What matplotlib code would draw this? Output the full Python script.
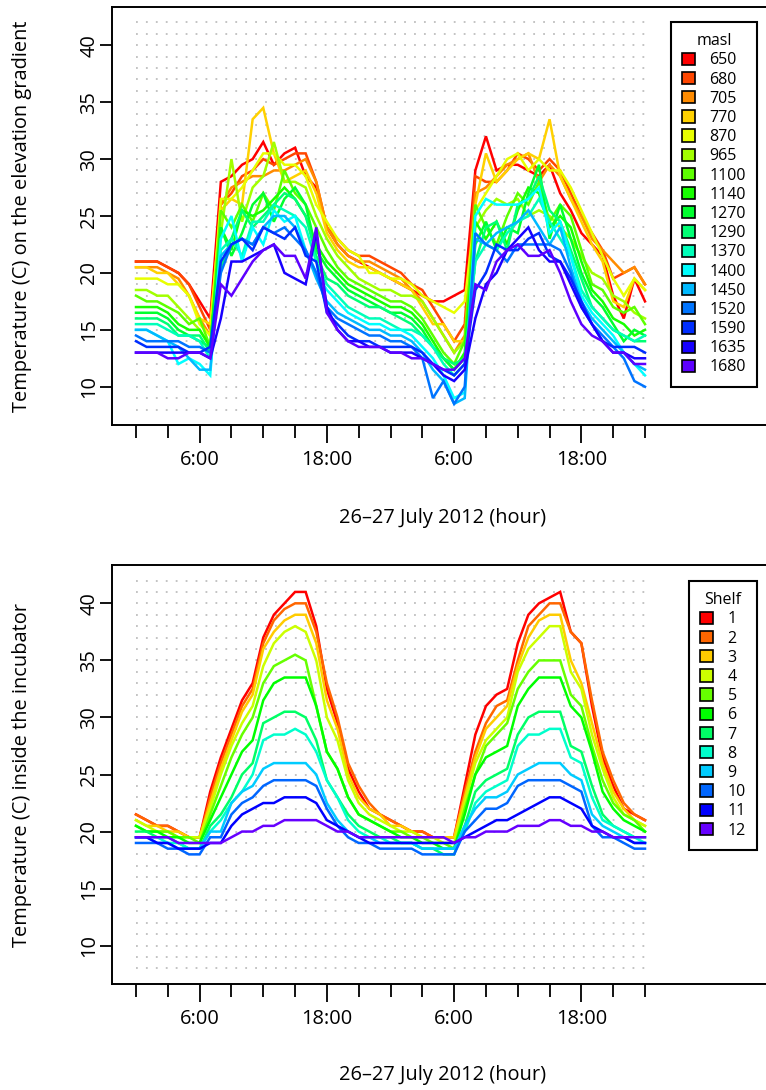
import numpy as np
import matplotlib
matplotlib.use('Agg')
import matplotlib.pyplot as plt
from matplotlib.colors import hsv_to_rgb
from matplotlib.patches import Patch

plt.rcParams['font.family'] = ['Open Sans', 'DejaVu Sans']

# hours since 0:00 on 26 July
hours = np.arange(49)
tick_hours = np.arange(0, 49, 3)
label_hours = [6, 18, 30, 42]
label_text = ['6:00', '18:00', '6:00', '18:00']
grid_levels = np.arange(8, 43)

# --- elevation gradient (masl) ---
masl = ['650', '680', '705', '770', '870', '965', '1100', '1140', '1270',
        '1290', '1370', '1400', '1450', '1520', '1590', '1635', '1680']

t650 = [21, 21, 21, 20.5, 20, 19, 17.5, 16,
        28, 28.5, 29.5, 30, 31.5, 29.5, 30.5, 31, 28.5, 27.5,
        24, 22.5, 21.5, 21, 20.5, 20, 19.5, 19, 18.5, 18, 17.5, 17.5, 18, 18.5,
        29, 32, 29, 29.5, 29.5, 29, 28.5, 29.5, 27, 25.5, 23.5, 22.5, 21.5, 18, 16, 19.5, 17.5]
t680 = [21, 21, 21, 20.5, 20, 19, 17, 15,
        26, 27, 28.5, 29, 30, 29.5, 30, 30.5, 30.5, 28,
        24, 23, 22, 21.5, 21.5, 21, 20.5, 20, 19, 18.5, 17, 15.5, 14, 15.5,
        28.5, 28, 28, 29, 30.5, 30, 29, 30, 29, 27, 25, 23.5, 22, 19.5, 20, 20.5, 19]
t705 = [20.5, 20.5, 20.5, 20, 19.5, 18, 16, 14.5,
        26, 27.5, 28, 28.5, 28.5, 29, 29, 29.5, 30, 28,
        24, 22.5, 21.5, 21, 21, 20.5, 20, 19.5, 18.5, 17.5, 16, 14.5, 13, 14.5,
        27, 27.5, 28.5, 29.5, 30, 30.5, 28, 29.5, 28.5, 26.5, 25, 23, 22, 21, 20, 20.5, 19]
t770 = [20.5, 20.5, 20, 20, 19, 18, 16, 15.5,
        25.5, 26.5, 26, 33.5, 34.5, 30.5, 28, 28.5, 29, 27,
        23.5, 22, 21, 20.5, 20.5, 20, 19.5, 19, 18.5, 17, 15.5, 15.5, 14, 14,
        26, 30.5, 28, 29, 30, 30.5, 30, 33.5, 28.5, 26.5, 24.5, 22.5, 21, 17.5, 17, 19.5, 18.5]
t870 = [19.5, 19.5, 19.5, 19, 19, 18, 15.5, 14.5,
        26.5, 26.5, 27.5, 29, 30.5, 30.5, 29.5, 29.5, 28.5, 26,
        24.5, 23, 22, 21.5, 20, 20, 19.5, 19.5, 19, 18, 17.5, 17, 16.5, 17.5,
        25.5, 27, 28.5, 30, 30.5, 29, 30, 29, 29, 27.5, 25.5, 23.5, 21.5, 19.5, 18, 19.5, 18.5]
t965 = [18.5, 18.5, 18, 18, 17, 16, 15, 13.5,
        23.5, 30, 24.5, 27.5, 28.5, 31.5, 28, 28, 27.5, 25,
        23, 21.5, 20.5, 19.5, 19, 18.5, 18.5, 18, 18, 17.5, 16, 14.5, 13, 14,
        24, 25.5, 26.5, 26, 26.5, 25, 25.5, 25, 24, 23, 21.5, 20, 19.5, 18, 17.5, 16.5, 16]
t1100 = [18, 17.5, 17.5, 17, 16.5, 15.5, 16, 13.5,
         25.5, 24, 26, 24.5, 27, 25.5, 29, 27, 26, 24,
         22, 20.5, 19.5, 19, 18.5, 18, 17.5, 17.5, 17, 16, 14.5, 13, 12, 14,
         26, 24, 22.5, 25, 27, 26, 28, 24.5, 26, 25, 22, 19, 18.5, 17, 16.5, 17, 15.5]
t1140 = [17, 17, 17, 16.5, 15.5, 15, 15, 13.5,
         24, 22, 25.5, 25, 25.5, 26.5, 27.5, 26.5, 25, 22.5,
         21, 20, 19, 18.5, 18, 17.5, 17, 17, 16.5, 15.5, 14, 12.5, 11.5, 13,
         24.5, 23, 24.5, 22.5, 25.5, 27.5, 27, 24, 25, 24, 21, 18.5, 17.5, 16, 15.5, 14.5, 15]
t1270 = [16.5, 16.5, 16.5, 16, 15, 14.5, 14, 13.5,
         24, 21.5, 23.5, 26, 27, 24.5, 26.5, 27.5, 26, 22,
         20.5, 19.5, 18.5, 18, 17.5, 17, 16.5, 16.5, 16, 15, 13.5, 12.5, 11.5, 12.5,
         22.5, 24.5, 22, 24, 23.5, 27, 29.5, 23, 26, 23, 20, 18, 17, 15.5, 14, 15, 14.5]
t1290 = [16, 16, 16, 15.5, 14.5, 14.5, 14.5, 13,
         20.5, 23, 25.5, 24, 25, 26, 27, 26.5, 25, 21.5,
         19.5, 19, 18, 17.5, 17, 17, 16.5, 16, 15.5, 14.5, 13.5, 12.5, 12, 12.5,
         21, 24, 24.5, 22, 26, 26.5, 28.5, 25.5, 24.5, 22, 19.5, 17, 16, 15, 14.5, 14, 14]
t1370 = [15.5, 15.5, 15.5, 15, 14.5, 14.5, 14, 12.5,
         22, 23, 21.5, 24.5, 24.5, 26, 25.5, 25, 24, 21,
         19, 18, 17, 16.5, 16, 16, 15.5, 15, 15, 14.5, 13.5, 12, 11, 12,
         21, 22.5, 22, 23.5, 24.5, 25, 26.5, 24.5, 23, 21.5, 18.5, 17, 16, 15, 14.5, 14, 14.5]
t1400 = [15, 15, 14.5, 14, 12, 12.5, 12, 11,
         23, 25, 21, 24, 22.5, 25.5, 24.5, 25, 22, 20,
         18.5, 17.5, 16.5, 16, 15.5, 15.5, 15, 15, 14.5, 13.5, 12.5, 11, 9, 9.5,
         25, 26.5, 26, 26, 26, 26.5, 27.5, 23.5, 24.5, 21.5, 18, 16.5, 15.5, 14.5, 13, 12, 11]
t1450 = [15, 15, 14.5, 14, 13.5, 12.5, 11.5, 11.5,
         21.5, 22.5, 23, 22.5, 24, 25, 25, 24, 22, 19.5,
         17.5, 16.5, 16, 15.5, 15, 15, 14.5, 14.5, 14, 13, 11.5, 10.5, 8.5, 9,
         23, 22.5, 23.5, 24, 24.5, 25.5, 24, 22.5, 24, 20.5, 17.5, 16, 15, 14, 13, 12, 11.5]
t1520 = [14.5, 14, 14, 14, 14, 13.5, 13.5, 13,
         20, 22.5, 23, 22.5, 24, 23.5, 24, 23, 22, 20,
         17, 16, 15.5, 15, 14.5, 14.5, 14, 14, 13.5, 12.5, 9, 10.5, 8.5, 10,
         23.5, 22.5, 22, 21, 22.5, 22.5, 22.5, 22.5, 22, 20, 17, 15.5, 14.5, 13.5, 12.5, 10.5, 10]
t1590 = [14, 13.5, 13.5, 13.5, 13.5, 13, 13, 13.5,
         21, 22.5, 23, 22, 24, 23.5, 23, 24, 21.5, 21,
         16.5, 15.5, 14.5, 14, 14, 13.5, 13.5, 13.5, 13.5, 13, 12, 11.5, 11, 12,
         18.5, 20, 22.5, 22, 22, 23, 23.5, 21.5, 21, 19.5, 17.5, 15.5, 14, 13.5, 13.5, 13.5, 13]
t1635 = [13, 13, 13, 13, 13, 13, 13, 12.5,
         16, 21, 21, 21.5, 22, 22.5, 20, 19.5, 19, 23.5,
         17, 15, 14, 14, 13.5, 13.5, 13, 13, 13, 12.5, 12, 11, 10.5, 11.5,
         16, 19, 20, 22, 23, 24, 22, 21, 21, 19, 17, 15.5, 14, 13, 13, 12.5, 12.5]
t1680 = [13, 13, 13, 12.5, 12.5, 13, 13, 12.5,
         19, 18, 19.5, 21, 22, 22.5, 21.5, 21.5, 19.5, 24,
         16.5, 15, 14, 13.5, 13.5, 13.5, 13, 13, 12.5, 12.5, 12, 11.5, 11.5, 12.5,
         19, 18.5, 21, 22, 22.5, 21.5, 21.5, 22, 20, 17.5, 15.5, 14.5, 14, 13, 13, 12, 12]

gradient = [t650, t680, t705, t770, t870, t965, t1100, t1140, t1270,
            t1290, t1370, t1400, t1450, t1520, t1590, t1635, t1680]

# --- incubator shelves ---
shelves = [str(i) for i in range(1, 13)]

shelf1 = [21.5, 21, 20.5, 20.5, 20, 19.5, 19.5,
          23.5, 26.5, 29, 31.5, 33, 37, 39, 40, 41, 41, 38, 32.5, 29.5, 25.5, 23.5, 22, 21.5, 21,
          20.5, 20, 20, 19.5, 19.5, 19.5,
          24, 28.5, 31, 32, 32.5, 36.5, 39, 40, 40.5, 41, 37.5, 36.5, 31, 26.5, 24, 22, 21.5, 21]
shelf2 = [21.5, 21, 20.5, 20.5, 20, 19.5, 19.5,
          23, 26, 28.5, 31, 32.5, 36.5, 38.5, 39.5, 40, 40, 37.5, 33, 30, 26, 24, 22.5, 21.5, 21,
          20.5, 20, 20, 19.5, 19.5, 19.5,
          23.5, 27, 29.5, 31, 31.5, 35, 38, 39, 40, 40, 37.5, 36.5, 31.5, 27, 24.5, 22.5, 21.5, 21]
shelf3 = [21, 20.5, 20.5, 20, 20, 19.5, 19.5,
          22.5, 25.5, 28, 30.5, 32, 36, 37.5, 38.5, 39, 39, 36.5, 31.5, 29, 25, 23, 22, 21.5, 20.5,
          20.5, 20, 19.5, 19.5, 19.5, 19.5,
          23, 26.5, 29, 30, 31, 34.5, 37, 38.5, 39, 39, 35, 33, 29.5, 26, 23.5, 22, 21, 20.5]
shelf4 = [21, 20.5, 20, 20, 19.5, 19.5, 19.5,
          22, 25, 27.5, 29.5, 31, 34.5, 36.5, 37.5, 38, 37.5, 35, 30, 28, 24.5, 22.5, 21.5, 21, 20.5,
          20, 20, 19.5, 19.5, 19, 19,
          22.5, 26, 28, 29, 30, 34, 36, 37, 38, 38, 34, 32.5, 28.5, 25.5, 23, 21.5, 21, 20.5]
shelf5 = [20.5, 20, 20, 20, 19.5, 19.5, 19,
          21.5, 24, 26.5, 28.5, 30, 33, 34.5, 35, 35.5, 35, 31, 27, 25.5, 23, 21.5, 21, 20.5, 20,
          20, 19.5, 19.5, 19, 19, 18.5,
          22, 25, 27.5, 28.5, 29.5, 32.5, 34, 35, 35, 35, 32, 31, 27.5, 24.5, 22.5, 21.5, 21, 20]
shelf6 = [20.5, 20, 20, 19.5, 19.5, 19, 19,
          21, 23, 25, 27, 28, 31.5, 33, 33.5, 33.5, 33.5, 31, 27, 25.5, 23, 21.5, 21, 20.5, 20,
          19.5, 19.5, 19, 19, 18.5, 18.5,
          21.5, 25, 26.5, 27, 27.5, 31, 32.5, 33.5, 33.5, 33.5, 31, 30, 27, 23.5, 22, 21, 20.5, 20]
shelf7 = [20, 20, 19.5, 19.5, 19, 18.5, 18.5,
          20.5, 21.5, 23, 25, 26, 29.5, 30, 30.5, 30.5, 30, 28, 24.5, 23, 21.5, 20.5, 20, 19.5, 19.5,
          19, 19, 18.5, 18.5, 18, 18,
          20.5, 23.5, 24.5, 25, 25.5, 28.5, 30, 30.5, 30.5, 30.5, 27.5, 27, 24, 21.5, 20.5, 20, 19.5, 19.5]
shelf8 = [19.5, 19.5, 19.5, 19, 19, 18.5, 18.5,
          20, 21, 22.5, 23.5, 25, 28, 28.5, 28.5, 29, 28.5, 27, 24.5, 23, 21, 20, 19.5, 19.5, 19,
          19, 19, 18.5, 18.5, 18.5, 18.5,
          20, 22.5, 23.5, 24, 24.5, 27.5, 28.5, 28.5, 29, 29, 26.5, 26, 23, 21, 20.5, 20, 19.5, 19]
shelf9 = [19.5, 19.5, 19, 19, 18.5, 18.5, 18.5,
          20, 20, 22.5, 23.5, 24, 25.5, 26, 26, 26, 26, 25, 22.5, 21, 20, 19.5, 19.5, 19, 19,
          19, 19, 18.5, 18.5, 18.5, 18.5,
          20.5, 22, 23, 23, 23.5, 25, 25.5, 26, 26, 26, 25, 24.5, 21.5, 20.5, 20, 19.5, 19, 19]
shelf10 = [19, 19, 19, 18.5, 18.5, 18, 18,
           19.5, 19.5, 21.5, 22.5, 23, 24, 24.5, 24.5, 24.5, 24.5, 24, 22, 20.5, 19.5, 19, 19, 18.5, 18.5,
           18.5, 18.5, 18, 18, 18, 18,
           20, 21, 22, 22, 22.5, 24, 24.5, 24.5, 24.5, 24.5, 24, 23.5, 20.5, 19.5, 19.5, 19, 18.5, 18.5]
shelf11 = [19.5, 19.5, 19, 19, 18.5, 18.5, 18.5,
           19, 19, 20.5, 21.5, 22, 22.5, 22.5, 23, 23, 23, 22.5, 21, 20.5, 20, 19.5, 19, 19, 19,
           19, 19, 19, 19, 19, 19,
           19.5, 20, 20.5, 21, 21, 21.5, 22, 22.5, 23, 23, 22.5, 22, 20.5, 20, 19.5, 19.5, 19, 19]
shelf12 = [19.5, 19.5, 19.5, 19.5, 19, 19, 19,
           19, 19, 19.5, 20, 20, 20.5, 20.5, 21, 21, 21, 21, 20.5, 20, 20, 19.5, 19.5, 19.5, 19.5,
           19.5, 19.5, 19.5, 19.5, 19.5, 19,
           19.5, 19.5, 20, 20, 20, 20.5, 20.5, 20.5, 21, 21, 20.5, 20.5, 20, 20, 19.5, 19.5, 19.5, 19.5]

incubator = [shelf1, shelf2, shelf3, shelf4, shelf5, shelf6,
             shelf7, shelf8, shelf9, shelf10, shelf11, shelf12]


def rainbow(n_total, n_used):
    # R-style rainbow(): evenly spaced hues, full saturation/value
    return [hsv_to_rgb((i / n_total, 1, 1)) for i in range(n_used)]


W, H = 766, 1090
fig = plt.figure(figsize=(W / 100, H / 100), dpi=100)

FS = 14.4
LEG_FS = 11.5


def panel(top_px, bottom_px, series, names, title, ylabel, leg_top_px, ncolors, xlab_y):
    ax = fig.add_axes([112 / W, 1 - bottom_px / H, (W - 112) / W, (bottom_px - top_px) / H])
    cols = rainbow(ncolors, len(series))

    ax.hlines(grid_levels, 0, 48, colors='#bebebe', linewidth=1.3,
              linestyles=(0, (1, 4.5)), zorder=1)
    for vals, c in zip(series, cols):
        ax.plot(hours, vals, color=c, lw=1.8, zorder=2, solid_joinstyle='miter')

    ax.set_xlim(-2.263, 59.41)
    ax.set_ylim(6.64, 43.36)

    for side in ['top', 'left', 'bottom']:
        ax.spines[side].set_linewidth(1.4)
    ax.spines['right'].set_visible(False)

    ax.set_xticks(tick_hours, minor=True)
    ax.set_xticks(label_hours)
    ax.set_xticklabels(label_text, fontsize=FS)
    ax.tick_params(axis='x', which='major', length=13, width=1.3, pad=5)
    ax.tick_params(axis='x', which='minor', length=9.4, width=1.3)

    ax.set_yticks([10, 15, 20, 25, 30, 35, 40])
    ax.set_yticklabels(['10', '15', '20', '25', '30', '35', '40'], fontsize=FS,
                       rotation=90, va='center')
    ax.tick_params(axis='y', length=8.6, width=1.3, pad=0.5)

    ax.set_xlabel('26\u201327 July 2012 (hour)', fontsize=FS, va='center')
    ax.xaxis.set_label_coords(0.506, xlab_y)
    ax.set_ylabel(ylabel, fontsize=FS, va='center')
    ax.yaxis.set_label_coords(-0.1376, 0.5)

    handles = [Patch(facecolor=c, edgecolor='black', linewidth=1.2) for c in cols]
    leg = ax.legend(handles, names, title=title, loc='upper right',
                    bbox_to_anchor=(757 / W, 1 - leg_top_px / H),
                    bbox_transform=fig.transFigure, borderaxespad=0,
                    fontsize=LEG_FS, title_fontsize=LEG_FS,
                    frameon=True, fancybox=False, framealpha=1,
                    handlelength=0.8, handleheight=0.8, handletextpad=0.9,
                    labelspacing=0.2, borderpad=0.7)
    leg.get_frame().set_edgecolor('black')
    leg.get_frame().set_linewidth(1.5)
    return ax


panel(7, 425, gradient, masl, 'masl',
      'Temperature (C) on the elevation gradient', 22, 22, -0.222)
panel(565, 984, incubator, shelves, 'Shelf',
      'Temperature (C) inside the incubator', 581, 15, -0.217)

fig.savefig('out.png', dpi=100)
